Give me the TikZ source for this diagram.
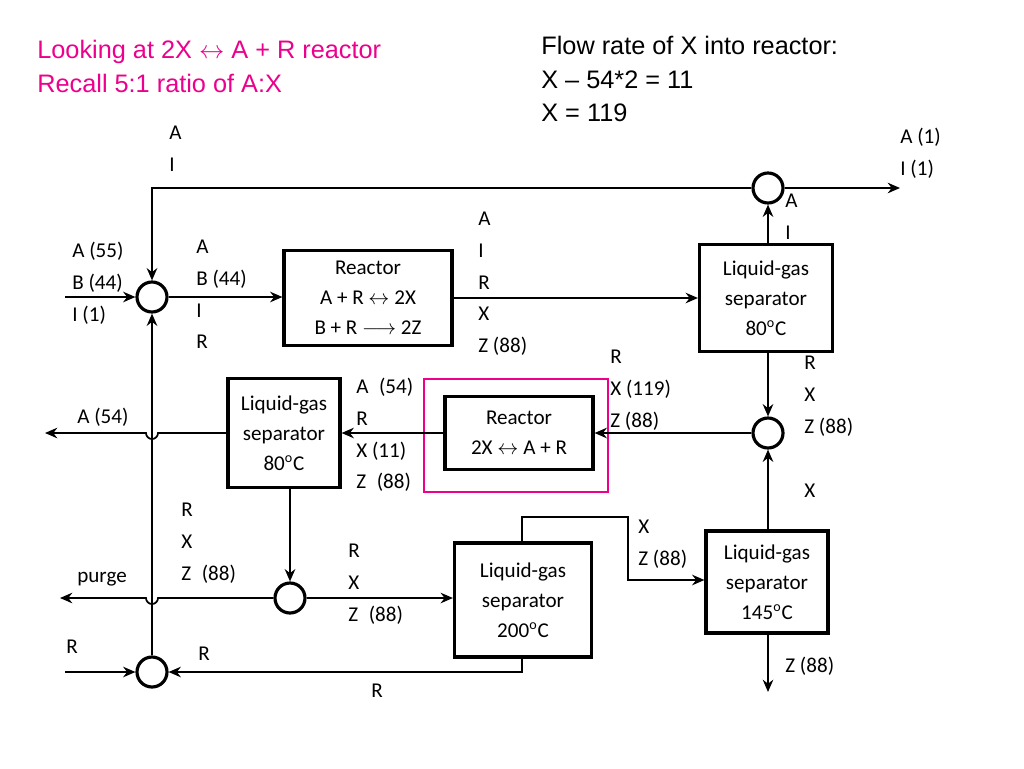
\documentclass[tikz,border=0pt]{standalone}
\usepackage{fontspec}
\setmainfont{Carlito}
\newfontfamily\arial{Liberation Sans}
\usetikzlibrary{arrows.meta}
\begin{document}
\begin{tikzpicture}[x=0.02cm,y=-0.02cm,
 box/.style={draw,line width=1.8pt,align=center,font=\large,inner sep=0pt},
 mix/.style={draw,circle,line width=1.8pt,minimum size=30*0.02cm,inner sep=0pt},
 f/.style={line width=1pt,-{Stealth[length=7pt,width=6pt]}},
 l/.style={align=left,font=\large,anchor=north west,inner sep=0pt}]
\useasboundingbox (0,0) rectangle (1024,768);
\node[box,minimum width=168*0.02cm,minimum height=95*0.02cm] (r1) at (368,298) {Reactor\\[3pt]A + R $\leftrightarrow$ 2X\\[3pt]B + R $\longrightarrow$ 2Z};
\node[box,minimum width=133*0.02cm,minimum height=107*0.02cm] (lg1) at (766,298) {Liquid-gas\\[3pt]separator\\[3pt]80\textsuperscript{o}C};
\node[box,minimum width=112*0.02cm,minimum height=109*0.02cm] (lg2) at (284,433) {Liquid-gas\\[3pt]separator\\[3pt]80\textsuperscript{o}C};
\node[box,minimum width=148*0.02cm,minimum height=73*0.02cm] (r2) at (519,433) {Reactor\\[3pt]2X $\leftrightarrow$ A + R};
\draw[magenta,line width=0.8pt] (424,379) rectangle (608,492);
\node[box,minimum width=137*0.02cm,minimum height=114*0.02cm] (lg3) at (523,600) {Liquid-gas\\[3pt]separator\\[3pt]200\textsuperscript{o}C};
\node[box,minimum width=122*0.02cm,minimum height=102*0.02cm] (lg4) at (767,582) {Liquid-gas\\[3pt]separator\\[3pt]145\textsuperscript{o}C};
\node[mix] (m1) at (152,297) {};
\node[mix] (mt) at (768,188) {};
\node[mix] (mr) at (768,433) {};
\node[mix] (mp) at (290,598) {};
\node[mix] (mb) at (152,672) {};
\coordinate (e1) at (900,188); \coordinate (tl) at (152,188);
\coordinate (f1) at (65,297); \coordinate (fa) at (45,433); \coordinate (fp) at (60,598);
\coordinate (fr) at (65,672); \coordinate (z) at (768,692);
\coordinate (c1) at (522,517); \coordinate (c2) at (628,517); \coordinate (c3) at (628,580);
\coordinate (c4) at (522,672);
\draw[f] (mt.east) -- (e1);
\draw[f] (mt.west) -- (tl) -- (m1.north);
\draw[f] (mt|-lg1.north) -- (mt.south);
\draw[f] (f1) -- (m1.west);
\draw[f] (m1.east) -- (r1.west|-m1);
\draw[f] (r1.east) -- (lg1.west);
\draw[f] (mr|-lg1.south) -- (mr.north);
\draw[f] (mr|-lg4.north) -- (mr.south);
\draw[f] (mr.west) -- (r2.east);
\draw[f] (r2.west) -- (lg2.east);
\draw[f] (lg2.west) -- (158,433) arc (0:180:6) -- (fa);
\draw[f] (mp|-lg2.south) -- (mp.north);
\draw[f] (mp.west) -- (158,598) arc (0:180:6) -- (fp);
\draw[f] (mp.east) -- (lg3.west|-mp);
\draw[f] (c1|-lg3.north) -- (c1) -- (c2) -- (c3) -- (lg4.west|-c3);
\draw[f] (z|-lg4.south) -- (z);
\draw[f] (c4|-lg3.south) -- (c4) -- (mb.east);
\draw[f] (fr) -- (mb.west);
\draw[f] (mb.north) -- (m1.south);
% texts
\node[anchor=north west,font=\arial\Large,text=magenta,align=left,inner sep=0pt] (t1) at (37,40) {Looking at 2X $\leftrightarrow$ A + R reactor\\[1pt]Recall 5:1 ratio of A:X};
\node[anchor=north west,font=\arial\Large,align=left,inner sep=0pt] (t2) at (541,36) {Flow rate of X into reactor:\\[1pt]X \textendash{} 54*2 = 11\\[1pt]X = 119};
\node[l] (a1) at (169,126) {A\\[4pt]I};
\node[l] (a2) at (900,128) {A (1)\\[4pt]I (1)};
\node[l] (a3) at (785,194) {A\\[4pt]I};
\node[l] (a4) at (478,212) {A\\[4pt]I\\[4pt]R\\[4pt]X\\[4pt]Z (88)};
\node[l] (a5) at (72,242) {A (55)\\[4pt]B (44)\\[4pt]I (1)};
\node[l] (a6) at (196,240) {A\\[4pt]B (44)\\[4pt]I\\[4pt]R};
\node[l] (a7) at (610,350) {R\\[4pt]X (119)\\[4pt]Z (88)};
\node[l] (a8) at (804,356) {R\\[4pt]X\\[4pt]Z (88)};
\node[l] (a9) at (804,484) {X};
\node[l] (a10) at (356,378) {A\enspace(54)\\[4pt]R\\[4pt]X (11)\\[4pt]Z\enspace(88)};
\node[l] (a11) at (77,408) {A (54)};
\node[l] (a12) at (181,503) {R\\[4pt]X\\[4pt]Z\enspace(88)};
\node[l] (a13) at (348,544) {R\\[4pt]X\\[4pt]Z\enspace(88)};
\node[l] (a14) at (638,520) {X\\[4pt]Z (88)};
\node[l] (a15) at (77,572) {purge};
\node[l] (a16) at (66,640) {R};
\node[l] (a17) at (198,647) {R};
\node[l] (a18) at (371,684) {R};
\node[l] (a19) at (785,657) {Z (88)};
\end{tikzpicture}
\end{document}
